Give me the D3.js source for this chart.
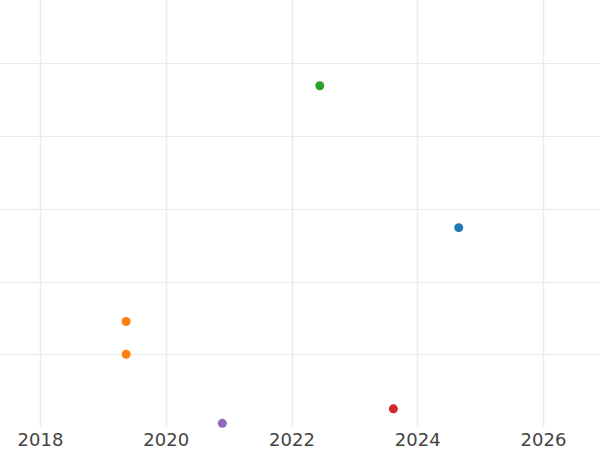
<!DOCTYPE html>
<html>
<head>
<meta charset="utf-8">
<script src="https://cdn.jsdelivr.net/npm/d3@7"></script>
<style>
  body { margin: 0; background: #fff; }
  svg { display: block; }
</style>
</head>
<body>
<svg width="600" height="450"></svg>
<script>
var years = [2022.45, 2024.66, 2019.37, 2019.37, 2020.90, 2023.62];
var values = [4.69, 2.74, 1.45, 1.00, 0.05, 0.25];
var colors = ["#2ca02c", "#1f77b4", "#ff7f0e", "#ff7f0e", "#9467bd", "#d62728"];
var xTicks = [2018, 2020, 2022, 2024, 2026];
var yTicks = [1, 2, 3, 4, 5];

var svg = d3.select("svg");
var width = +svg.attr("width");
var height = +svg.attr("height");
var bottom = 427;

var xScale = d3.scaleLinear()
               .domain([2018, 2026])
               .range([40, 543]);

var yScale = d3.scaleLinear()
               .domain([0, 1])
               .range([bottom, bottom - 72.75]);

// grid
svg.append("g")
  .selectAll("line")
  .data(yTicks)
  .enter()
  .append("line")
    .attr("x1", 0)
    .attr("x2", width)
    .attr("y1", d => Math.round(yScale(d)) + 0.5)
    .attr("y2", d => Math.round(yScale(d)) + 0.5)
    .style("stroke", "#ebebeb")
    .style("stroke-width", 1);

svg.append("g")
  .selectAll("line")
  .data(xTicks)
  .enter()
  .append("line")
    .attr("x1", d => Math.round(xScale(d)) + 0.5)
    .attr("x2", d => Math.round(xScale(d)) + 0.5)
    .attr("y1", 0)
    .attr("y2", bottom)
    .style("stroke", "#ebebeb")
    .style("stroke-width", 1.5);

var xAxis = d3.axisBottom(xScale)
              .tickValues(xTicks)
              .tickFormat(d3.format("d"))
              .tickSize(0)
              .tickPadding(6);

var gx = svg.append("g")
  .attr("transform", "translate(0," + bottom + ")")
  .call(xAxis);
gx.select(".domain").remove();
gx.selectAll("text")
  .style("font-family", "DejaVu Sans, sans-serif")
  .style("font-size", "18px")
  .style("fill", "#444");

svg.append("g")
  .selectAll("circle")
  .data(years)
  .enter()
  .append("circle")
    .attr("cx", d => xScale(d))
    .attr("cy", (d, i) => yScale(values[i]))
    .attr("r", 4.5)
    .attr("fill", (d, i) => colors[i]);
</script>
</body>
</html>
